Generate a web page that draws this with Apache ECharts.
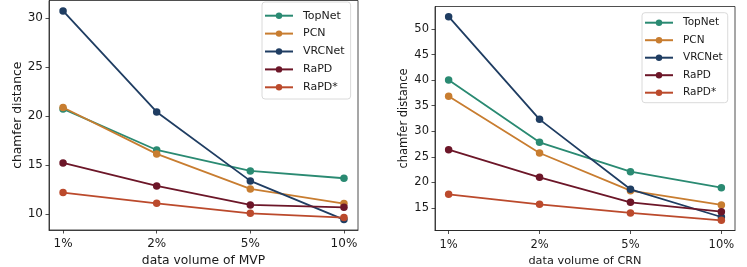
<!DOCTYPE html>
<html>
<head>
<meta charset="utf-8">
<script src="https://cdn.jsdelivr.net/npm/echarts@6/dist/echarts.min.js"></script>
<style>
html,body{margin:0;padding:0;background:#fff;}
#c{width:747px;height:267px;}
</style>
</head>
<body>
<div id="c"></div>
<script>
const categories = ['1%', '2%', '5%', '10%'];
const seriesNames = ['TopNet', 'PCN', 'VRCNet', 'RaPD', 'RaPD*'];
const colors = ['#2a8a72', '#c87d30', '#1f3d62', '#6c1628', '#bb4a2c'];

// Left panel: data volume of MVP
const mvpTopNet = [20.73, 16.55, 14.41, 13.67];
const mvpPCN    = [20.87, 16.15, 12.58, 11.09];
const mvpVRCNet = [30.71, 20.42, 13.40, 9.46];
const mvpRaPD   = [15.23, 12.89, 10.95, 10.71];
const mvpRaPDs  = [12.21, 11.12, 10.10, 9.66];
const mvpTicks  = [10, 15, 20, 25, 30];

// Right panel: data volume of CRN
const crnTopNet = [40.03, 27.84, 22.10, 18.97];
const crnPCN    = [36.83, 25.75, 18.38, 15.58];
const crnVRCNet = [52.41, 32.33, 18.64, 13.23];
const crnRaPD   = [26.40, 20.99, 16.10, 14.28];
const crnRaPDs  = [17.67, 15.71, 14.02, 12.58];
const crnTicks  = [15, 20, 25, 30, 35, 40, 45, 50];

const mvpData = [mvpTopNet, mvpPCN, mvpVRCNet, mvpRaPD, mvpRaPDs];
const crnData = [crnTopNet, crnPCN, crnVRCNet, crnRaPD, crnRaPDs];

const FONT = 'DejaVu Sans';
const TXT = '#1a1a1a';

function yRange(arrs) {
  let lo = Infinity, hi = -Infinity;
  arrs.forEach(a => a.forEach(v => { lo = Math.min(lo, v); hi = Math.max(hi, v); }));
  const m = (hi - lo) * 0.05;
  return [lo - m, hi + m];
}

function xAxis(gi, name, fsTick, fsName, margin, gap) {
  return {
    type: 'value', gridIndex: gi, min: -0.15, max: 3.15,
    name: name, nameLocation: 'middle', nameGap: gap,
    nameTextStyle: { fontFamily: FONT, fontSize: fsName, color: TXT },
    axisLine: { show: true, onZero: false, lineStyle: { color: '#222', width: 0.8 } },
    axisTick: { show: true, inside: false, length: 3.5, lineStyle: { color: '#222', width: 0.8 }, customValues: [0, 1, 2, 3] },
    axisLabel: { show: true, margin: margin, fontFamily: FONT, fontSize: fsTick, color: TXT,
      customValues: [0, 1, 2, 3], formatter: v => categories[Math.round(v)] },
    splitLine: { show: false }
  };
}
function yAxis(gi, rng, ticks, fsTick, fsName, gap) {
  return {
    type: 'value', gridIndex: gi, min: rng[0], max: rng[1],
    name: 'chamfer distance', nameLocation: 'middle', nameGap: gap, nameRotate: 90,
    nameTextStyle: { fontFamily: FONT, fontSize: fsName, color: TXT },
    axisLine: { show: true, onZero: false, lineStyle: { color: '#222', width: 0.8 } },
    axisTick: { show: true, inside: false, length: 3.5, lineStyle: { color: '#222', width: 0.8 }, customValues: ticks },
    axisLabel: { show: true, margin: 6, fontFamily: FONT, fontSize: fsTick, color: TXT, customValues: ticks },
    splitLine: { show: false }
  };
}

const series = [];
[mvpData, crnData].forEach((panel, gi) => {
  panel.forEach((vals, i) => {
    series.push({
      name: seriesNames[i], type: 'line', xAxisIndex: gi, yAxisIndex: gi,
      data: vals.map((v, k) => [k, v]),
      symbol: 'circle', symbolSize: 7.5,
      lineStyle: { color: colors[i], width: 1.8 },
      itemStyle: { color: colors[i] },
      emphasis: { disabled: true },
      animation: false, z: 2 + i
    });
  });
});

function legend(left, top, fs, gap, pad) {
  return {
    orient: 'vertical', left: left, top: top,
    data: seriesNames,
    itemWidth: 28, itemHeight: 8, itemGap: gap,
    padding: pad,
    borderColor: '#d0d0d0', borderWidth: 0.8, borderRadius: 3,
    backgroundColor: 'rgba(255,255,255,0.85)',
    textStyle: { fontFamily: FONT, fontSize: fs, color: TXT, padding: [0, 0, 0, 5], lineHeight: 12 },
    selectedMode: false
  };
}

const chart = echarts.init(document.getElementById('c'), null, { renderer: 'canvas' });
chart.setOption({
  backgroundColor: '#fff',
  animation: false,
  grid: [
    { left: 49, right: 389, top: 0.5, bottom: 37, show: true, borderColor: '#222', borderWidth: 0.8, containLabel: false, outerBoundsMode: 'none' },
    { left: 435, right: 12, top: 6.5, bottom: 36.5, show: true, borderColor: '#222', borderWidth: 0.8, containLabel: false, outerBoundsMode: 'none' }
  ],
  xAxis: [xAxis(0, 'data volume of MVP', 12, 12.3, 7.5, 22), xAxis(1, 'data volume of CRN', 11.5, 11.3, 8.5, 20.5)],
  yAxis: [yAxis(0, yRange(mvpData), mvpTicks, 12, 12.3, 24.5), yAxis(1, yRange(crnData), crnTicks, 11.5, 11.5, 23.5)],
  legend: [legend(262, 2, 11, 5.9, [7.7, 6, 5.7, 2]), legend(642, 12.7, 10.5, 5.5, [4, 5, 4, 2])],
  series: series
});
</script>
</body>
</html>
